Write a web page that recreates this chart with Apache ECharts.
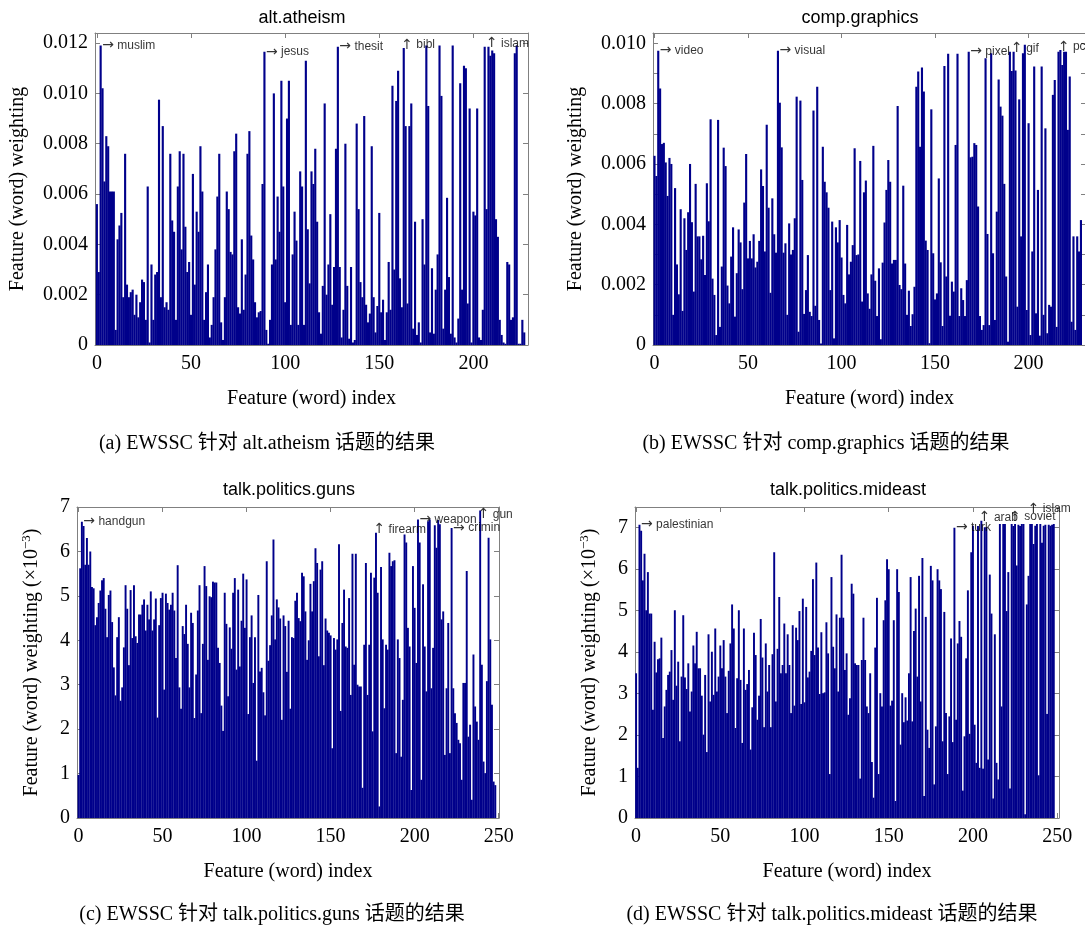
<!DOCTYPE html>
<html><head><meta charset="utf-8">
<script src="https://cdn.jsdelivr.net/npm/echarts@6/dist/echarts.min.js"></script>
<style>html,body{margin:0;padding:0;background:#fff}#c{width:1085px;height:929px}</style>
</head><body><div id="c"></div>
<script>
// ---------------- DATA ----------------
// all weights are in units of 1e-3
const weightsA = [
5.6,2.9,11.9,10.2,6.5,8.3,7.9,6.1,6.1,6.1,
0.6,4.2,4.75,5.25,1.9,7.6,2.4,1.9,2.1,2.2,
1.2,2.0,1.1,1.7,2.6,2.5,1.0,6.3,0.1,3.2,
1.0,2.8,2.9,9.75,1.9,8.7,1.5,1.7,1.4,7.6,
4.95,4.5,1.0,6.3,7.7,3.8,7.6,4.7,2.9,3.3,
1.2,6.8,2.4,5.3,4.5,7.9,6.1,1.0,2.1,3.2,
0.3,0.8,1.9,3.8,5.9,7.6,0.9,0.2,1.9,6.1,
5.4,3.7,3.6,7.7,8.4,1.5,
1.25,4.2,1.4,2.8,7.6,8.5,4.35,3.4,1.7,1.1,
1.3,1.35,6.4,11.65,0.6,0.05,1.0,3.2,10.0,3.4,
5.9,4.5,10.5,6.3,1.7,9.0,10.5,0.8,3.6,5.3,
4.15,0.8,6.9,6.3,0.8,11.3,4.6,2.45,6.9,6.4,
7.8,4.9,1.3,0.45,2.35,9.6,2.0,3.2,5.2,1.6,
3.1,7.8,11.85,3.1,0.3,1.4,8.0,2.35,0.25,3.1,
0.1,0.2,8.8,5.4,2.5,1.9,9.1,1.6,0.9,1.25,
7.9,1.9,0.5,1.55,5.25,
1.3,1.8,0.2,1.3,3.3,1.4,10.3,3.0,9.7,10.9,
2.65,1.5,11.8,8.7,1.65,8.7,9.6,0.65,4.9,0.4,
0.9,0.1,5.0,3.2,11.9,9.5,0.5,3.05,0.45,2.2,
3.6,11.9,9.9,0.65,2.2,5.85,2.7,0.45,11.9,0.3,
0.1,1.05,10.4,2.2,11.1,11.0,1.65,9.4,0.1,5.3,
5.15,9.4,0.3,0.2,1.4,11.85,5.4,11.85,11.5,11.7,
11.6,5.0,4.3,1.0,0.4,0.1,0.05,3.3,3.2,1.0,
1.1,11.6,11.9,0.05,0.05,1.0,0.5
];
const weightsB = [
6.27,5.6,9.75,8.5,6.66,6.7,6.05,4.94,6.2,6.0,
1.0,5.2,2.67,1.68,4.5,1.13,4.2,3.15,4.4,6.0,
4.07,1.77,5.34,3.6,3.6,2.84,3.62,2.32,5.36,4.1,
7.48,2.2,1.66,0.33,7.46,0.6,2.6,6.54,5.93,1.97,
1.38,2.93,3.9,0.94,2.38,3.83,3.4,1.85,4.72,6.33,
2.87,3.45,2.87,3.67,2.57,2.76,3.45,5.82,5.27,3.1,
7.3,4.55,1.73,4.86,3.67,3.06,9.75,8.03,6.55,3.06,
3.37,1.0,4.03,3.0,3.15,4.2,
8.23,0.44,8.1,5.47,1.03,1.82,2.98,1.1,0.96,7.77,
1.3,8.56,0.83,0.05,6.57,5.41,5.06,4.55,1.82,4.09,
0.22,3.9,3.4,4.14,2.9,1.66,1.38,3.98,2.34,2.76,
3.31,6.52,2.98,3.0,6.1,1.44,5.06,5.45,1.71,1.2,
2.34,6.6,2.13,0.96,2.54,0.19,2.73,4.06,5.14,6.13,
5.41,2.7,2.82,2.82,7.92,1.99,1.85,5.28,2.7,1.0,
1.8,0.63,1.02,1.93,8.56,9.06,6.57,9.2,8.4,3.46,
3.15,0.06,7.81,3.04,1.51,1.71,5.52,
2.74,0.63,9.25,2.27,9.65,0.97,2.1,1.77,6.63,9.65,
0.96,1.88,1.49,0.96,2.15,9.72,6.22,6.24,6.69,6.63,
4.59,0.96,0.5,0.66,9.5,3.68,0.66,9.67,3.04,0.83,
4.42,8.8,7.9,7.6,5.34,2.27,0.11,9.72,9.08,9.72,
9.1,1.27,8.14,3.6,9.67,9.95,1.16,7.35,0.33,3.1,
9.23,1.05,5.14,0.31,9.23,1.0,7.18,0.39,1.33,1.27,
8.29,8.78,0.6,9.72,9.78,9.28,9.72,9.72,7.13,8.9,
0.77,3.6,0.5,3.6,3.1,4.14
];
const weightsC = [
0.97,5.62,6.67,6.57,5.7,6.3,5.7,6.0,5.2,5.17,
4.34,4.52,4.84,5.12,5.35,5.4,4.71,4.07,5.02,5.12,
4.41,3.39,2.76,4.07,4.52,2.64,2.94,3.84,5.24,4.71,
3.44,5.13,4.05,5.24,4.09,3.94,4.58,4.58,4.8,4.92,
4.22,4.8,4.47,5.1,4.22,4.47,4.94,2.26,4.34,4.95,
5.07,2.89,5.05,4.84,4.69,4.8,5.07,4.67,3.6,5.69,
2.94,2.46,4.32,4.14,4.8,3.92,2.94,4.62,4.39,2.25,
3.23,4.67,5.24,2.36,3.92,5.67,5.22,3.56,4.99,4.97,
5.32,5.3,5.3,
3.83,3.49,2.53,1.96,5.07,4.37,2.74,4.29,3.81,5.07,
5.4,3.34,5.14,3.41,4.44,5.5,4.28,5.37,2.34,4.07,
4.56,3.04,4.07,1.29,5.02,3.3,3.38,2.83,2.31,5.78,
3.54,3.89,4.56,6.27,4.02,4.92,4.74,4.49,2.21,4.56,
4.32,3.29,4.44,2.46,4.07,4.05,4.89,5.07,4.5,4.43,
5.52,5.44,4.65,3.56,4.0,5.27,4.65,5.33,6.07,5.74,
3.64,5.59,5.78,3.44,4.49,4.22,4.17,4.11,1.57,4.05,
3.79,4.02,6.16,2.41,4.39,5.14,3.86,3.83,4.95,2.77,
5.95,
3.45,5.95,3.0,2.96,2.96,0.68,3.9,5.74,2.77,3.9,
5.52,1.95,5.41,6.42,5.07,0.26,5.65,4.02,2.47,3.9,
3.79,5.97,5.67,5.78,5.8,1.46,4.02,3.6,1.38,2.66,
6.38,6.2,4.28,3.86,0.63,5.67,4.73,3.49,6.72,6.2,
0.86,5.26,3.86,2.85,6.68,6.72,2.92,3.83,6.59,6.08,
6.71,6.61,4.47,4.65,1.42,2.92,4.39,1.46,6.53,2.92,
2.36,2.14,1.76,1.68,0.86,3.04,3.04,5.56,1.83,2.1,
0.41,3.68,2.51,2.17,1.76,6.92,3.45,1.27,1.01,3.08,
6.31,4.02,2.55,0.82,0.74
];
const weightsD = [
3.49,1.21,7.07,6.93,5.73,6.37,5.01,5.93,4.93,4.93,
2.61,4.25,3.51,3.83,3.85,4.35,1.93,2.69,3.09,3.45,
3.53,4.05,2.85,5.01,3.19,3.77,1.85,3.41,4.89,3.39,
3.11,3.73,2.57,3.05,4.16,3.73,4.49,3.61,3.61,2.95,
2.01,3.45,1.59,4.43,2.81,4.01,2.97,4.57,3.05,3.41,
4.16,3.61,4.29,3.41,2.53,3.55,4.21,5.15,4.57,2.17,
3.37,5.01,3.33,1.81,4.57,3.09,3.23,3.57,1.65,2.67,
4.47,3.93,2.37,2.95,4.8,3.87,2.19,4.21,3.05,3.69,
2.19,3.95,6.41,2.81,
4.08,5.33,3.49,3.69,4.69,3.49,4.43,3.69,2.53,4.65,
2.71,4.59,4.29,4.99,2.75,5.29,2.79,5.09,3.39,3.53,
4.03,5.76,3.93,6.16,4.11,2.99,4.48,3.01,3.03,4.72,
3.97,1.06,5.81,4.13,3.61,4.91,3.05,4.83,6.35,4.83,
3.57,3.97,2.49,2.89,5.65,5.41,3.73,3.69,3.69,0.95,
3.81,4.83,3.81,2.69,2.53,3.49,1.35,0.49,4.11,5.31,
1.06,3.01,2.69,4.77,5.25,6.24,6.0,2.71,2.83,4.77,
0.41,6.0,5.45,1.77,3.01,2.31,2.91,2.35,3.49,5.81,
2.33,4.51,5.05,
3.41,5.84,2.81,6.27,0.53,4.85,2.13,1.69,6.08,5.73,
0.81,2.21,6.0,5.73,5.52,1.85,4.97,2.53,1.06,2.45,
4.33,1.83,7.0,2.37,4.21,4.75,4.37,0.66,1.97,3.85,
5.49,2.03,6.41,7.05,2.25,1.33,7.04,1.21,7.17,1.19,
7.01,7.01,1.41,5.87,4.93,0.47,4.43,1.33,0.93,7.09,
2.69,7.09,7.09,4.99,5.93,0.71,7.09,7.04,7.09,6.09,
7.07,7.04,7.09,7.09,0.09,5.15,5.84,7.09,7.09,6.61,
7.05,7.09,1.03,7.09,6.64,7.05,7.07,2.51,7.07,7.05,
7.07,7.09
];

const xTickLabelsAB = [0, 50, 100, 150, 200];
const xTickLabelsCD = [0, 50, 100, 150, 200, 250];
const yTicksA = [0, 2, 4, 6, 8, 10, 12];
const yTicksB = [0, 1, 2, 3, 4, 5, 6, 7, 8, 9, 10];
const yLabelsB = [0, 2, 4, 6, 8, 10];
const yTicksCD = [0, 1, 2, 3, 4, 5, 6, 7];

const topicTitles = ['alt.atheism', 'comp.graphics', 'talk.politics.guns', 'talk.politics.mideast'];
const captions = [
  '(a) EWSSC 针对 alt.atheism 话题的结果',
  '(b) EWSSC 针对 comp.graphics 话题的结果',
  '(c) EWSSC 针对 talk.politics.guns 话题的结果',
  '(d) EWSSC 针对 talk.politics.mideast 话题的结果'
];
const xAxisName = 'Feature (word) index';
const yAxisNameAB = 'Feature (word) weighting';
const yAxisNameCD = 'Feature (word) weighting (×10{sup|−3})';

const wordsA = ['muslim', 'jesus', 'thesit', 'bibl', 'islam'];
const wordIdxA = [2, 89, 128, 163, 208];
const arrowsA = ['→', '→', '→', '↑', '↑'];
const wordsB = ['video', 'visual', 'pixel', 'gif', 'pc'];
const wordIdxB = [2, 66, 168, 192, 217];
const arrowsB = ['→', '→', '→', '↑', '↑'];
const wordsC = ['handgun', 'firearm', 'weapon', 'crimin', 'gun'];
const wordIdxC = [2, 177, 202, 222, 239];
const arrowsC = ['→', '↑', '→', '→', '↑'];
const wordsD = ['palestinian', 'turk', 'arab', 'soviet', 'islam'];
const wordIdxD = [2, 189, 205, 223, 234];
const arrowsD = ['→', '→', '↑', '↑', '↑'];

// ---------------- STYLE / LAYOUT ----------------
const SERIF = '"Liberation Serif", "Times New Roman", serif';
const SANS = '"Liberation Sans", Arial, sans-serif';
const ARROWFONT = '"DejaVu Sans", sans-serif';
const CAPFONT = '"Liberation Serif", "Noto Sans CJK SC", serif';
const BAR = '#00008B';
const FRAME = '#808080';

const fmtMilli = v => v === 0 ? '0' : (v / 1000).toFixed(3);
const fmtInt = v => String(v);

const panels = [
  {data: weightsA, words: wordsA, idx: wordIdxA, arrows: arrowsA, xl: xTickLabelsAB, yt: yTicksA, yl: yTicksA, fmt: fmtMilli, yName: yAxisNameAB},
  {data: weightsB, words: wordsB, idx: wordIdxB, arrows: arrowsB, xl: xTickLabelsAB, yt: yTicksB, yl: yLabelsB, fmt: fmtMilli, yName: yAxisNameAB},
  {data: weightsC, words: wordsC, idx: wordIdxC, arrows: arrowsC, xl: xTickLabelsCD, yt: yTicksCD, yl: yTicksCD, fmt: fmtInt, yName: yAxisNameCD},
  {data: weightsD, words: wordsD, idx: wordIdxD, arrows: arrowsD, xl: xTickLabelsCD, yt: yTicksCD, yl: yTicksCD, fmt: fmtInt, yName: yAxisNameCD}
];
const layout = [
  {left: 95, top: 33, width: 433, height: 312, xMin: -1, xMax: 229, yMax: 12.4, yGap: 65, title: [302, 18], cap: [267, 444], shift: {}},
  {left: 653, top: 33, width: 433, height: 312, xMin: -0.8, xMax: 230.7, yMax: 10.34, yGap: 65, title: [860, 18], cap: [826, 444], shift: {}},
  {left: 77, top: 507, width: 422, height: 311, xMin: -0.9, xMax: 250.2, yMax: 7, yGap: 33, title: [289, 490], cap: [272, 915], shift: {gun: 7}},
  {left: 635, top: 507, width: 424, height: 311, xMin: -0.65, xMax: 251.1, yMax: 7.5, yGap: 33, title: [848, 490], cap: [832, 915], shift: {islam: -12, soviet: -4}}
];

const grids = [], xAxes = [], yAxes = [], series = [], graphics = [];
const line = {show: true, onZero: false, lineStyle: {color: FRAME, width: 1}};
const tick = vals => ({show: true, inside: true, length: 5, customValues: vals, lineStyle: {color: FRAME, width: 1}});

panels.forEach((p, i) => {
  const L = layout[i];
  const pxPerUnit = L.width / (L.xMax - L.xMin);
  grids.push({left: L.left, top: L.top, width: L.width, height: L.height, containLabel: false, outerBoundsMode: 'none'});
  xAxes.push({
    type: 'value', gridIndex: i, position: 'bottom', min: L.xMin, max: L.xMax,
    axisLine: line, axisTick: tick(p.xl), splitLine: {show: false},
    axisLabel: {customValues: p.xl, color: '#000', fontFamily: SERIF, fontSize: 20, margin: 9},
    name: xAxisName, nameLocation: 'middle', nameGap: 44,
    nameTextStyle: {color: '#000', fontFamily: SERIF, fontSize: 20}
  });
  xAxes.push({
    type: 'value', gridIndex: i, position: 'top', min: L.xMin, max: L.xMax,
    axisLine: line, axisTick: tick(p.xl), splitLine: {show: false}, axisLabel: {show: false}
  });
  yAxes.push({
    type: 'value', gridIndex: i, position: 'left', min: 0, max: L.yMax,
    axisLine: line, axisTick: tick(p.yt), splitLine: {show: false},
    axisLabel: {customValues: p.yl, formatter: p.fmt, color: '#000', fontFamily: SERIF, fontSize: 20, margin: 7},
    name: p.yName, nameLocation: 'middle', nameGap: L.yGap,
    nameTextStyle: {color: '#000', fontFamily: SERIF, fontSize: 20, lineHeight: 24,
      rich: {sup: {fontFamily: SERIF, fontSize: 13, verticalAlign: 'top', lineHeight: 24, color: '#000'}}}
  });
  yAxes.push({
    type: 'value', gridIndex: i, position: 'right', min: 0, max: L.yMax,
    axisLine: line, axisTick: tick(p.yt), splitLine: {show: false}, axisLabel: {show: false}
  });
  series.push({
    type: 'bar', xAxisIndex: 2 * i, yAxisIndex: 2 * i, barWidth: pxPerUnit + 0.25,
    data: p.data.map((v, k) => [k, v]),
    itemStyle: {color: BAR}, silent: true
  });
  series.push({
    type: 'scatter', xAxisIndex: 2 * i, yAxisIndex: 2 * i, symbolSize: 1, silent: true,
    itemStyle: {color: 'rgba(0,0,0,0)'}, z: 5,
    data: p.idx.map((k, j) => {
      const up = p.arrows[j] === '↑';
      const dy = (up ? -3 : 0) + (L.shift[p.words[j]] || 0);
      return {value: [k, p.data[k]], label: {formatter: '{a|' + p.arrows[j] + '} ' + p.words[j], offset: [up ? -4 : 0, dy]}};
    }),
    label: {show: true, position: 'right', distance: 1, color: '#000', fontFamily: SANS, fontSize: 12,
      rich: {a: {fontFamily: ARROWFONT, fontSize: 14, color: '#000'}}}
  });
  graphics.push({type: 'text', x: L.title[0], y: L.title[1], style: {text: topicTitles[i], fill: '#000', font: '18px ' + SANS, align: 'center', verticalAlign: 'middle'}});
  graphics.push({type: 'text', x: L.cap[0], y: L.cap[1], style: {text: captions[i], fill: '#000', font: '20px ' + CAPFONT, align: 'center', verticalAlign: 'middle'}});
});

const chart = echarts.init(document.getElementById('c'), null, {renderer: 'canvas'});
chart.setOption({
  animation: false,
  backgroundColor: '#fff',
  grid: grids, xAxis: xAxes, yAxis: yAxes, series: series, graphic: graphics
});
</script></body></html>
